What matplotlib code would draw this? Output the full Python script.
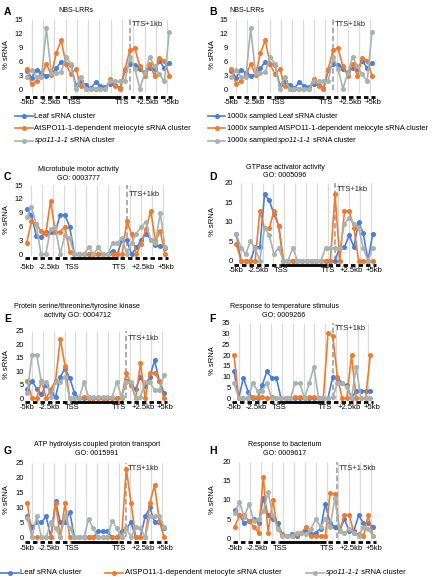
import matplotlib
matplotlib.use('Agg')
import matplotlib.pyplot as plt
from matplotlib.lines import Line2D
import numpy as np

plt.rcParams['font.family'] = ['Liberation Sans', 'DejaVu Sans']

W, H = 437, 577

# 30 bins: 10 upstream (-5kb..TSS), 10 gene body, 10 downstream (TTS..+5kb)
x = np.arange(30)
xtick_pos = [0, 4.7, 9.6, 19.4, 24.5, 29.3]
xtick_lab = ['-5kb', '-2.5kb', 'TSS', 'TTS', '+2.5kb', '+5kb']

# A / B  NBS-LRRs
leaf_A = [4.1, 2.6, 4.3, 3.6, 3.0, 3.3, 4.6, 6.0, 5.5, 5.3, 1.0, 2.0, 1.0, 0.4, 1.6,
          0.9, 0.7, 1.2, 1.1, 0.4, 4.2, 5.4, 5.3, 4.5, 3.7, 4.6, 4.4, 6.2, 4.6, 5.8]
meio_A = [4.5, 1.2, 2.0, 3.0, 5.5, 3.2, 7.8, 10.5, 5.5, 3.3, 4.5, 0.8, 0.3, 0.3, 0.3,
          0.3, 0.3, 2.3, 0.8, 0.3, 4.5, 8.5, 8.8, 5.0, 3.0, 5.5, 3.0, 6.8, 6.2, 3.0]
spo_A = [2.8, 4.3, 2.8, 2.8, 13.0, 3.5, 3.5, 3.8, 7.0, 5.5, 0.2, 2.8, 0.2, 0.2, 0.2,
         0.2, 0.2, 1.8, 1.9, 1.8, 2.0, 7.0, 4.5, 0.3, 3.5, 7.0, 5.0, 3.3, 1.8, 12.3]
leaf_B = list(leaf_A)
meio_B = list(meio_A)
spo_B = list(spo_A)

# C  Microtubule motor activity
leaf_C = [9.7, 8.5, 4.0, 3.8, 4.8, 4.8, 4.8, 8.5, 8.5, 6.0, 0, 0, 0, 0, 0,
          0, 0, 0, 0.8, 0, 3.2, 3.0, 0, 1.5, 3.0, 4.5, 3.2, 2.0, 1.8, 1.3]
meio_C = [2.5, 7.2, 6.5, 5.0, 4.5, 11.5, 4.8, 4.8, 6.0, 0.5, 0, 0, 0, 0, 0,
          0, 0, 0, 0, 0, 0, 7.2, 4.3, 0, 2.3, 5.5, 9.3, 3.0, 5.0, 0]
spo_C = [8.0, 10.3, 6.5, 0, 0, 5.5, 6.0, 0, 4.2, 3.5, 0, 0, 0, 1.5, 0,
         1.5, 0, 0, 2.5, 2.5, 3.5, 0, 2.5, 4.5, 6.0, 7.0, 3.0, 2.5, 9.0, 1.5]

# D  GTPase activator activity
leaf_D = [6.8, 0, 0, 0, 3.5, 3.5, 17.0, 15.5, 12.0, 9.0, 0, 0, 0, 0, 0,
          0, 0, 0, 0, 0, 0, 0, 3.5, 3.5, 6.5, 3.5, 10.0, 7.0, 0, 6.8]
meio_D = [4.3, 0, 0, 0, 0, 12.7, 8.3, 8.3, 12.7, 9.0, 0, 0, 0, 0, 0,
          0, 0, 0, 0, 0, 0, 17.0, 0, 12.7, 12.7, 8.5, 0, 0, 0, 0]
spo_D = [6.8, 3.3, 1.7, 5.0, 3.3, 0, 8.5, 6.5, 1.7, 3.3, 0, 0, 3.3, 0, 0,
         0, 0, 0, 0, 3.3, 3.3, 3.3, 3.3, 9.5, 11.0, 9.5, 8.5, 3.3, 0, 3.3]

# E  Protein serine/threonine/tyrosine kinase activity
leaf_E = [3.5, 6.5, 3.5, 1.5, 5.0, 2.0, 0.5, 8.0, 11.0, 7.5, 2.0, 0, 0, 0, 0,
          0, 0, 0, 0, 0, 0.5, 6.5, 5.0, 3.5, 8.0, 4.5, 8.0, 14.0, 6.5, 2.0]
meio_E = [6.5, 0, 0, 6.5, 0, 3.5, 6.5, 22.0, 12.0, 0, 0, 0, 0.5, 0, 0,
          0, 0, 0, 0, 0, 0, 9.5, 5.0, 0, 13.0, 0, 9.5, 9.5, 6.5, 0]
spo_E = [2.0, 16.0, 16.0, 6.0, 6.0, 0.5, 6.0, 6.0, 8.0, 0, 0, 0, 6.0, 0.5, 0.5,
         0.5, 0.5, 0.5, 0.5, 6.0, 0.5, 6.0, 6.0, 0, 0.5, 6.0, 6.0, 3.0, 3.0, 8.5]

# F  Response to temperature stimulus
leaf_F = [12.5, 0, 9.5, 3.0, 0, 0, 6.0, 12.5, 9.5, 9.5, 0, 0, 0, 0, 0,
          0, 0, 0, 0, 0, 0, 10.0, 9.5, 7.0, 6.0, 0, 3.5, 3.5, 3.5, 3.5]
meio_F = [20.0, 0, 0, 0, 0.5, 0.5, 0.5, 0, 0.5, 0, 0, 0, 0, 0.5, 0.5,
          0, 0.5, 0.5, 0, 0, 30.0, 29.0, 10.0, 0, 0, 20.0, 0, 0, 0, 20.0]
spo_F = [7.0, 0.3, 0.3, 0.3, 7.0, 3.5, 3.5, 7.0, 0, 0, 0, 0, 0, 7.0, 7.0,
         0, 7.0, 14.5, 0, 0, 0, 0.5, 7.0, 7.0, 5.0, 0, 14.5, 0.3, 0.3, 0.3]

# G  ATP hydrolysis coupled proton transport
leaf_G = [7.0, 3.5, 5.0, 5.0, 7.0, 0, 12.0, 5.0, 5.0, 8.5, 0, 0, 0, 0, 0,
          2.0, 2.0, 2.0, 0, 0, 2.0, 3.0, 5.0, 0, 0, 7.0, 10.0, 5.0, 5.0, 3.0]
meio_G = [11.5, 0, 0, 0, 0, 0, 11.5, 0, 11.5, 0, 0, 0, 0, 0, 0,
          0, 0, 0, 0, 0, 0, 23.0, 11.5, 0, 0, 0, 11.5, 17.5, 5.5, 0]
spo_G = [6.5, 0, 7.0, 0, 0, 5.0, 3.0, 0, 7.0, 3.0, 0, 0, 0, 6.0, 3.0,
         0, 0, 0, 5.5, 3.0, 0, 3.0, 0, 3.5, 3.0, 0, 7.0, 7.0, 7.0, 3.5]

# H  Response to bacterium
leaf_H = [7.5, 6.0, 4.0, 4.5, 5.0, 4.0, 10.5, 6.0, 5.0, 4.0, 1.0, 0.5, 1.0, 0.5, 1.5,
          2.0, 1.0, 1.5, 2.5, 9.0, 4.0, 3.0, 2.0, 5.0, 2.0, 2.0, 6.0, 4.0, 4.0, 3.0]
meio_H = [3.0, 6.0, 6.0, 4.5, 3.0, 1.5, 16.0, 1.5, 10.0, 2.5, 1.0, 0.5, 0.5, 1.0, 1.5,
          3.0, 0.5, 0.5, 0.5, 0.5, 11.8, 11.5, 2.0, 6.0, 6.0, 1.5, 1.0, 0.5, 6.0, 0.5]
spo_H = [6.5, 9.5, 5.5, 9.0, 4.5, 5.0, 7.0, 12.0, 6.0, 2.5, 0.5, 0.5, 0.5, 1.5, 1.5,
         1.0, 2.5, 5.0, 3.0, 5.0, 3.0, 10.5, 2.0, 1.5, 2.5, 1.5, 0.5, 3.0, 2.5, 0.5]

C_LEAF = '#4a7fd8'
C_MEIO = '#ef7b2f'
C_SPO = '#a8b2ae'
FS = 5.5

fig = plt.figure(figsize=(W / 100, H / 100), dpi=100)


def ftext(xp, yp, s, **kw):
    return fig.text(xp / W, 1 - yp / H, s, **kw)


def panel(geo, leaf, meio, spo, ymax, ystep, letter, title, tts_txt, tts_x):
    # geo: first point px, last point px, top px, zero px, bar px, label px, ...
    xf, xl, ytop, y0, bar, ylab, letpos, ttspos, ylabx = geo
    ppx = (xl - xf) / 29
    left, right = xf - 0.6 * ppx, xl + 0.6 * ppx
    ppy = (y0 - ytop) / ymax
    ylow = -(bar - y0) / ppy
    ax = fig.add_axes([left / W, 1 - bar / H, (right - left) / W, (bar - ytop) / H])
    ax.set_xlim(-0.6, 29.6)
    ax.set_ylim(ylow, ymax)
    for s in ax.spines.values():
        s.set_visible(False)

    # vertical grid
    ax.vlines(np.arange(1.0, 30, 2.3), ylow * 0.5, ymax, color='#d9d9d9', lw=0.8, zorder=0)
    # TTS + x kb marker
    ax.vlines(tts_x, 0, ymax, color='#a6a6a6', lw=1.3, linestyles=(0, (3, 1.5)), zorder=1)
    ax.text(tts_x + 0.4, ymax - (ttspos - ytop) / ppy, tts_txt, fontsize=FS,
            ha='left', va='center', color='#222222')

    for ys, c in ((leaf, C_LEAF), (meio, C_MEIO), (spo, C_SPO)):
        ax.plot(x, ys, color=c, lw=1.2, marker='o', ms=2.6, mec=c, mfc=c,
                clip_on=False, zorder=3)

    # gene model bar
    ax.plot([-0.4, 9.3], [ylow, ylow], color='black', lw=2.0, ls=(0, (1.6, 1.1)),
            clip_on=False, solid_capstyle='butt')
    ax.plot([9.3, 19.2], [ylow, ylow], color='black', lw=2.0, clip_on=False,
            solid_capstyle='butt')
    ax.plot([19.5, 29.6], [ylow, ylow], color='black', lw=2.0, ls=(0, (1.6, 1.1)),
            clip_on=False, solid_capstyle='butt')

    ax.set_xticks(xtick_pos)
    ax.set_xticklabels(xtick_lab, fontsize=FS)
    pad = max(2.0, (ylab - 3.6 - bar)) * 0.72
    ax.tick_params(axis='x', length=0, pad=pad)
    ax.set_yticks(np.arange(0, ymax + 0.1, ystep))
    ax.set_yticklabels([str(int(v)) for v in np.arange(0, ymax + 0.1, ystep)], fontsize=FS)
    ax.tick_params(axis='y', length=0, pad=0.5)

    ftext(ylabx, (ytop + y0) / 2, '% sRNA', fontsize=FS, rotation=90, ha='center', va='center')
    ftext(letpos[0], letpos[1], letter, fontsize=7.5, fontweight='bold', ha='left', va='center')
    ftext(title[1], title[2], title[0], fontsize=5.1, ha='center', va='center',
          linespacing=1.25)
    return ax


# panels
panel((26.7, 169.3, 19, 90, 96.5, 99, (4, 12), 25, 7), leaf_A, meio_A, spo_A, 15, 3,
      'A', ('NBS-LRRs', 76, 10), 'TTS+1kb', 21)
panel((231.3, 372, 19, 90, 96.5, 99, (209, 12), 25, 212), leaf_B, meio_B, spo_B, 15, 3,
      'B', ('NBS-LRRs', 247, 10), 'TTS+1kb', 21)
panel((26.7, 165, 185, 254.3, 258.3, 268, (4, 177), 194, 7), leaf_C, meio_C, spo_C, 15, 3,
      'C', ('Microtubule motor activity\nGO: 0003777', 78, 174), 'TTS+1kb', 21)
panel((236.3, 372.7, 182.7, 260.7, 265, 270, (209, 177), 189, 213), leaf_D, meio_D, spo_D, 20, 5,
      'D', ('GTPase activator activity\nGO: 0005096', 285, 171.5), 'TTS+1kb', 21)
panel((27.3, 164, 330.7, 398.3, 401.7, 407.3, (4, 319), 338, 7), leaf_E, meio_E, spo_E, 25, 5,
      'E', ('Protein serine/threonine/tyrosine kinase\nactivity GO: 0004712', 77, 311), 'TTS+1kb', 21)
panel((234, 370.3, 322.7, 398.3, 401.7, 407.3, (209, 319), 329, 213), leaf_F, meio_F, spo_F, 35, 5,
      'F', ('Response to temperature stimulus\nGO: 0009266', 284, 311), 'TTS+1kb', 21)
panel((27.3, 164, 462.7, 537.3, 541.7, 548.3, (4, 451), 469, 7), leaf_G, meio_G, spo_G, 25, 5,
      'G', ('ATP hydrolysis coupled proton transport\nGO: 0015991', 97, 449), 'TTS+1kb', 21)
panel((234.7, 373, 461.7, 538.3, 542.3, 548.3, (209, 451), 469, 213), leaf_H, meio_H, spo_H, 20, 5,
      'H', ('Response to bacterium\nGO: 0009617', 285, 449), 'TTS+1.5kb', 21.5)

renderer = fig.canvas.get_renderer()


def legend_entry(x0, x1, yp, color, parts, fs=FS):
    xm = (x0 + x1) / 2
    line = Line2D([x0 / W, xm / W, x1 / W], [1 - yp / H] * 3, transform=fig.transFigure,
                  color=color, lw=1.2, marker='o', ms=2.6, markevery=[1])
    fig.add_artist(line)
    xp = x1 + 1.5
    for txt, style in parts:
        t = ftext(xp, yp, txt, fontsize=fs, style=style, ha='left', va='center')
        bb = t.get_window_extent(renderer)
        xp += bb.width


# legend A
legend_entry(15, 33, 116, C_LEAF, [('Leaf sRNA cluster', 'normal')])
legend_entry(15, 33, 128, C_MEIO, [('AtSPO11-1-dependent meiocyte sRNA cluster', 'normal')])
legend_entry(15, 33, 141, C_SPO, [('spo11-1-1', 'italic'), (' sRNA cluster', 'normal')])
# legend B
legend_entry(208, 225, 116, C_LEAF, [('1000x sampled Leaf sRNA cluster', 'normal')], 5.3)
legend_entry(208, 225, 128, C_MEIO,
             [('1000x sampled AtSPO11-1-dependent meiocyte sRNA cluster', 'normal')], 5.3)
legend_entry(208, 225, 141, C_SPO, [('1000x sampled ', 'normal'), ('spo11-1-1', 'italic'),
                                    (' sRNA cluster', 'normal')], 5.3)
# bottom legend
legend_entry(0, 19, 573, C_LEAF, [('Leaf sRNA cluster', 'normal')])
legend_entry(105, 123, 573, C_MEIO, [('AtSPO11-1-dependent meiocyte sRNA cluster', 'normal')])
legend_entry(306, 324, 573, C_SPO, [('spo11-1-1', 'italic'), (' sRNA cluster', 'normal')])

fig.savefig('out.png', dpi=100)
